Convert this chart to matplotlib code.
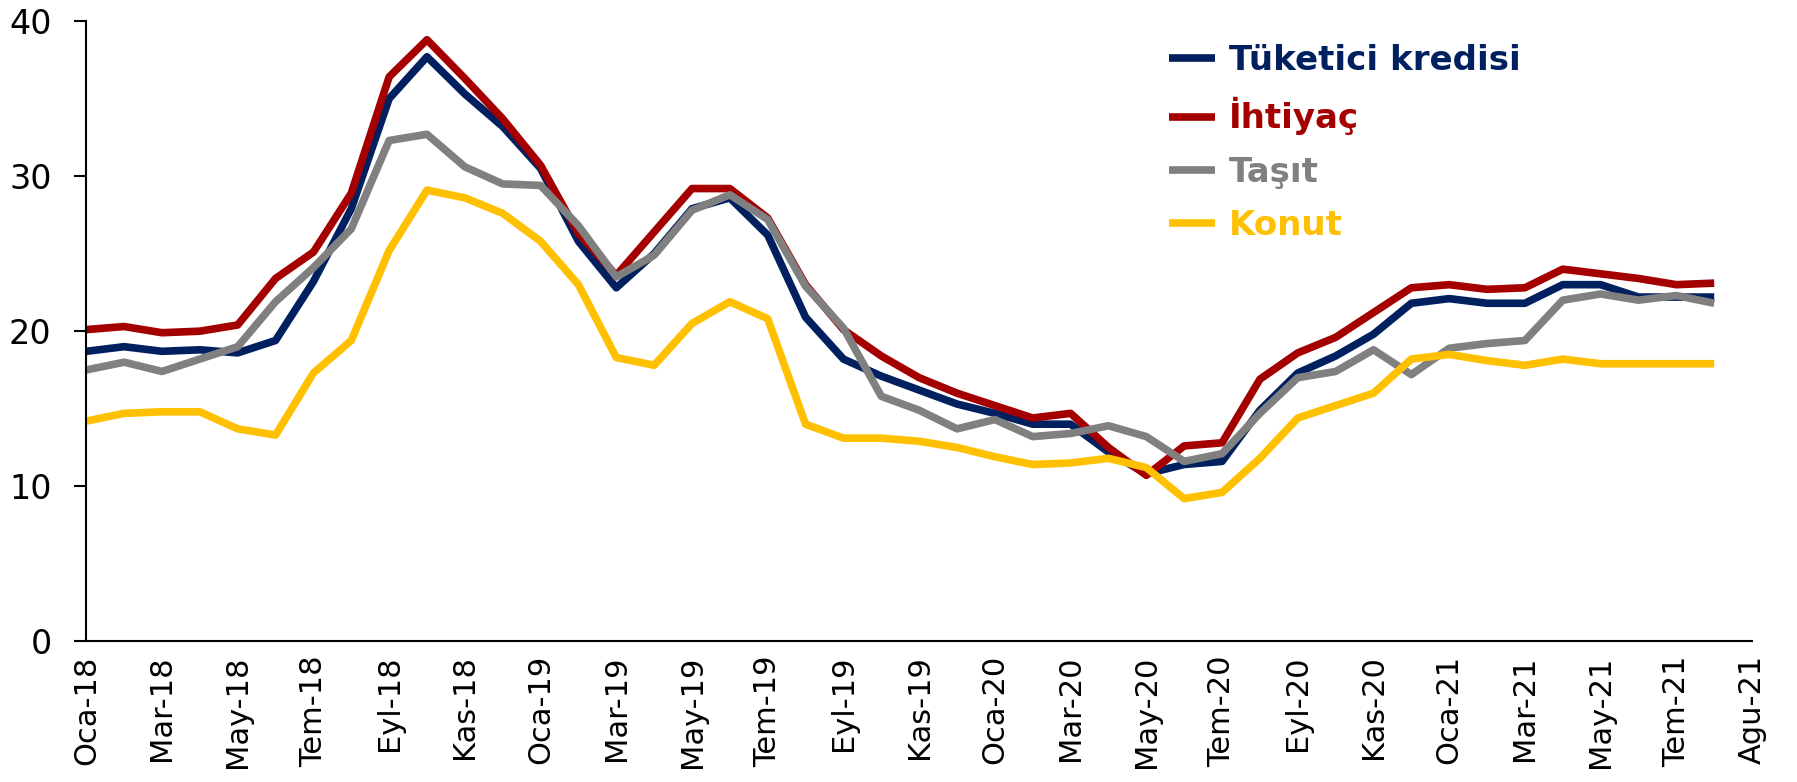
import numpy as np
import matplotlib
matplotlib.use("Agg")
import matplotlib.pyplot as plt

# tick labels along the category axis (one label every two months)
tick_labels = ["Oca-18", "Mar-18", "May-18", "Tem-18", "Eyl-18", "Kas-18",
               "Oca-19", "Mar-19", "May-19", "Tem-19", "Eyl-19", "Kas-19",
               "Oca-20", "Mar-20", "May-20", "Tem-20", "Eyl-20", "Kas-20",
               "Oca-21", "Mar-21", "May-21", "Tem-21", "Agu-21"]

# values, roughly monthly
tuketici = [18.7, 19.0, 18.7, 18.8, 18.6, 19.4, 23.2, 27.9, 35.0, 37.7,
            35.3, 33.2, 30.5, 25.8, 22.8, 25.0, 27.9, 28.6, 26.2, 20.9,
            18.2, 17.1, 16.2, 15.3, 14.7, 14.0, 14.0, 12.2, 10.8, 11.4,
            11.6, 14.9, 17.3, 18.4, 19.8, 21.8, 22.1, 21.8, 21.8, 23.0,
            23.0, 22.2, 22.2, 22.2]
ihtiyac = [20.1, 20.3, 19.9, 20.0, 20.4, 23.4, 25.1, 28.9, 36.4, 38.8,
           36.3, 33.7, 30.7, 26.3, 23.6, 26.4, 29.2, 29.2, 27.3, 23.0,
           20.1, 18.4, 17.0, 16.0, 15.2, 14.4, 14.7, 12.5, 10.7, 12.6,
           12.8, 16.9, 18.6, 19.6, 21.2, 22.8, 23.0, 22.7, 22.8, 24.0,
           23.7, 23.4, 23.0, 23.1]
tasit = [17.5, 18.0, 17.4, 18.2, 19.0, 21.9, 24.1, 26.6, 32.3, 32.7,
         30.6, 29.5, 29.4, 26.8, 23.5, 24.9, 27.8, 28.8, 27.2, 22.9,
         20.2, 15.8, 14.9, 13.7, 14.3, 13.2, 13.4, 13.9, 13.2, 11.6,
         12.1, 14.7, 17.0, 17.4, 18.8, 17.2, 18.9, 19.2, 19.4, 22.0,
         22.4, 22.0, 22.3, 21.8]
konut = [14.2, 14.7, 14.8, 14.8, 13.7, 13.3, 17.3, 19.4, 25.2, 29.1,
         28.6, 27.6, 25.8, 23.0, 18.3, 17.8, 20.5, 21.9, 20.8, 14.0,
         13.1, 13.1, 12.9, 12.5, 11.9, 11.4, 11.5, 11.8, 11.2, 9.2,
         9.6, 11.8, 14.4, 15.2, 16.0, 18.2, 18.5, 18.1, 17.8, 18.2,
         17.9, 17.9, 17.9, 17.9]

series = [("Tüketici kredisi", tuketici, "#002060"),
          ("İhtiyaç", ihtiyac, "#A50000"),
          ("Taşıt", tasit, "#808080"),
          ("Konut", konut, "#FFC000")]

fig = plt.figure(figsize=(17.97, 7.82), dpi=100)
ax = fig.add_axes([0.048, 0.18, 0.927, 0.793])

for name, vals, col in series:
    x = np.arange(len(vals)) * 0.5   # half a label step per month
    ax.plot(x, vals, color=col, lw=5.5, label=name,
            solid_joinstyle="round", solid_capstyle="butt")

ax.set_xlim(0, len(tick_labels) - 1)
ax.set_ylim(0, 40)
ax.set_yticks([0, 10, 20, 30, 40])
ax.set_xticks(np.arange(len(tick_labels)))
ax.set_xticklabels(tick_labels, rotation=90)

for s in ["top", "right"]:
    ax.spines[s].set_visible(False)
for s in ["left", "bottom"]:
    ax.spines[s].set_linewidth(1.5)
ax.tick_params(axis="y", direction="out", length=9, width=1.5, pad=16, labelsize=24)
ax.tick_params(axis="x", length=0, pad=10, labelsize=22)

leg = ax.legend(loc="upper left", bbox_to_anchor=(0.6505, 0.944),
                bbox_transform=fig.transFigure, frameon=False,
                borderaxespad=0, borderpad=0, handlelength=1.35,
                handletextpad=0.42, labelspacing=0.6,
                prop={"weight": "bold", "size": 24.5})
for txt, (_, _, col) in zip(leg.get_texts(), series):
    txt.set_color(col)

fig.savefig("out.png", dpi=100)
